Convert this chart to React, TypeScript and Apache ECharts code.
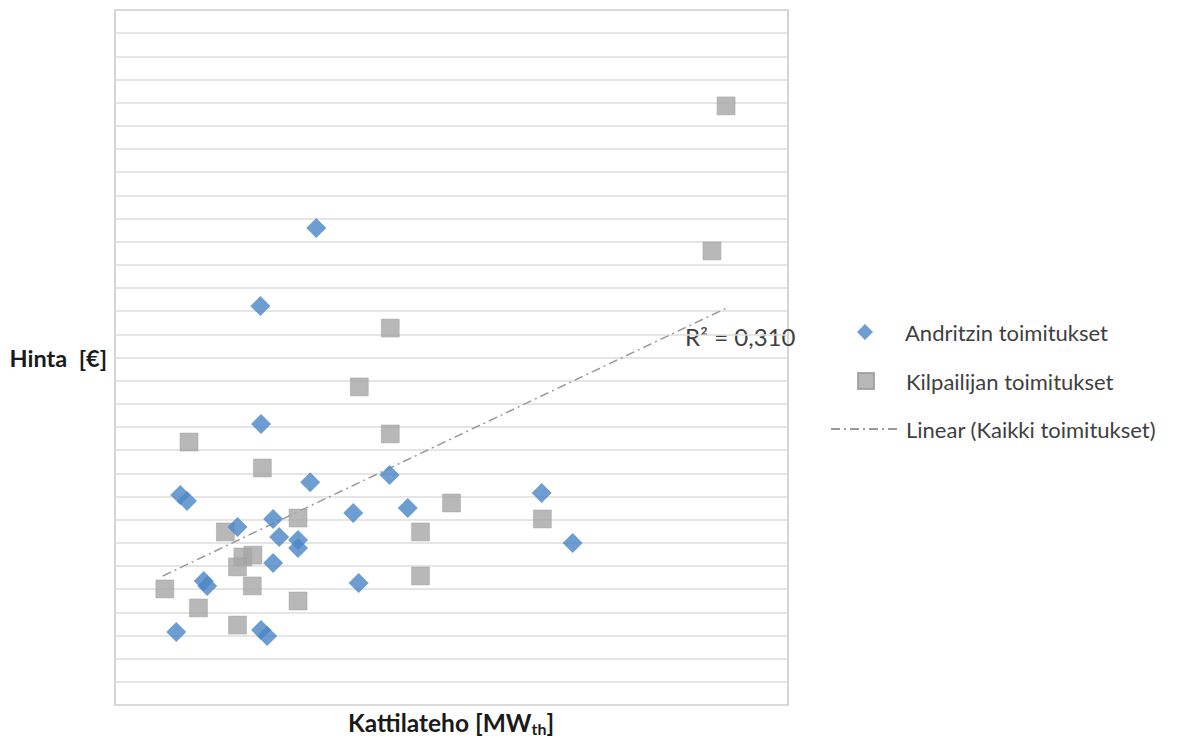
import React, { useEffect, useRef } from "react";
import * as echarts from "echarts";

// Andritzin toimitukset: [teho (relative), hinta (relative)]
const andritzX = [29.9, 21.6, 21.7, 29.0, 40.8, 9.7, 10.7, 18.2, 23.5, 24.4, 27.2, 27.2, 35.4, 43.5, 63.4, 68.0, 23.5, 13.2, 13.7, 36.2, 9.1, 21.7, 22.6];
const andritzY = [20.59, 17.22, 12.13, 9.62, 9.93, 9.06, 8.81, 7.68, 8.03, 7.25, 7.12, 6.78, 8.29, 8.5, 9.15, 6.99, 6.13, 5.35, 5.14, 5.27, 3.15, 3.24, 2.98];

// Kilpailijan toimitukset
const kilpX = [90.8, 88.7, 40.9, 36.3, 40.9, 11.0, 21.9, 27.2, 50.0, 63.5, 16.4, 45.4, 19.0, 20.5, 18.2, 20.4, 45.4, 7.4, 12.4, 18.2, 27.2];
const kilpY = [25.86, 19.6, 16.27, 13.73, 11.7, 11.35, 10.23, 8.07, 8.72, 8.03, 7.47, 7.47, 6.39, 6.47, 5.96, 5.14, 5.57, 5.01, 4.19, 3.45, 4.49];

// Linear trend (Kaikki toimitukset) end points
const trendX = [7.1, 90.9];
const trendY = [5.57, 17.14];
const r2Text = "R² = 0,310";

const seriesNames = ["Andritzin toimitukset", "Kilpailijan toimitukset", "Linear (Kaikki toimitukset)"];
const yTitle = "Hinta  [€]";
const xTitleMain = "Kattilateho [MW";
const xTitleSub = "th";

const FONT = "Lato, 'Liberation Sans', sans-serif";

export default function App() {
  const ref = useRef<HTMLDivElement>(null);
  useEffect(() => {
    if (!ref.current) return;
    const chart = echarts.init(ref.current, undefined, { renderer: "svg" });
    const zip = (xs: number[], ys: number[]) => xs.map((x, i) => [x, ys[i]]);
    const legendText = { fontSize: 22, color: "#404040", fontFamily: FONT };
    chart.setOption({
      animation: false,
      textStyle: { fontFamily: FONT },
      grid: {
        left: 115,
        right: 412,
        top: 10,
        bottom: 35,
        show: true,
        borderColor: "#d4d4d4",
        borderWidth: 2,
        backgroundColor: "#fff",
        outerBoundsMode: "none",
        containLabel: false,
      },
      xAxis: {
        type: "value",
        min: 0,
        max: 100,
        axisLine: { show: false },
        axisTick: { show: false },
        axisLabel: { show: false },
        splitLine: { show: false },
      },
      yAxis: {
        type: "value",
        min: 0,
        max: 30,
        interval: 1,
        axisLine: { show: false },
        axisTick: { show: false },
        axisLabel: { show: false },
        splitLine: { show: true, lineStyle: { color: "#dcdcdc", width: 1.5 } },
      },
      legend: [
        {
          left: 852,
          top: 316,
          itemWidth: 16,
          itemHeight: 16,
          data: [seriesNames[0]],
          textStyle: { ...legendText, padding: [0, 0, 0, 27] },
        },
        {
          left: 852,
          top: 365,
          itemWidth: 16,
          itemHeight: 16,
          data: [seriesNames[1]],
          textStyle: { ...legendText, padding: [0, 0, 0, 27] },
        },
        {
          left: 825,
          top: 413,
          itemWidth: 68,
          itemHeight: 14,
          data: [
            {
              name: seriesNames[2],
              itemStyle: { color: "rgba(0,0,0,0)", borderWidth: 0, opacity: 0 },
            },
          ],
          textStyle: { ...legendText, padding: [0, 0, 0, 2] },
        },
      ],
      graphic: [
        {
          type: "text",
          left: 685,
          top: 324,
          style: { text: r2Text, fontSize: 24, fill: "#404040", fontFamily: FONT },
        },
        {
          type: "text",
          right: 1200 - 107,
          top: 346,
          style: { text: yTitle, fontSize: 23.5, fontWeight: "bold", fill: "#1a1a1a", fontFamily: FONT },
        },
        {
          type: "text",
          left: 348,
          top: 710,
          style: {
            text: "{a|" + xTitleMain + "}{b|" + xTitleSub + "}{a|]}",
            fill: "#1a1a1a",
            rich: {
              a: { fontSize: 24.5, fontWeight: "bold", fill: "#1a1a1a", fontFamily: FONT },
              b: { fontSize: 16, fontWeight: "bold", fill: "#1a1a1a", fontFamily: FONT, padding: [11, 0, 0, 0] },
            },
          },
        },
      ],
      series: [
        {
          name: seriesNames[2],
          type: "line",
          data: zip(trendX, trendY),
          symbol: "none",
          lineStyle: { color: "#9a9a9a", width: 1.5, type: [9, 4, 2, 4] },
          itemStyle: { color: "#9a9a9a" },
          z: 1,
        },
        {
          name: seriesNames[0],
          type: "scatter",
          data: zip(andritzX, andritzY),
          symbol: "diamond",
          symbolSize: 20,
          itemStyle: { color: "#4a86c6" },
          z: 3,
        },
        {
          name: seriesNames[1],
          type: "scatter",
          data: zip(kilpX, kilpY),
          symbol: "rect",
          symbolSize: 18,
          itemStyle: { color: "#a6a6a6", borderColor: "#999", borderWidth: 0.5 },
          z: 2,
        },
      ],
    });
    return () => chart.dispose();
  }, []);
  return <div ref={ref} style={{ width: 1200, height: 740, position: "absolute", left: 0, top: 0 }} />;
}
